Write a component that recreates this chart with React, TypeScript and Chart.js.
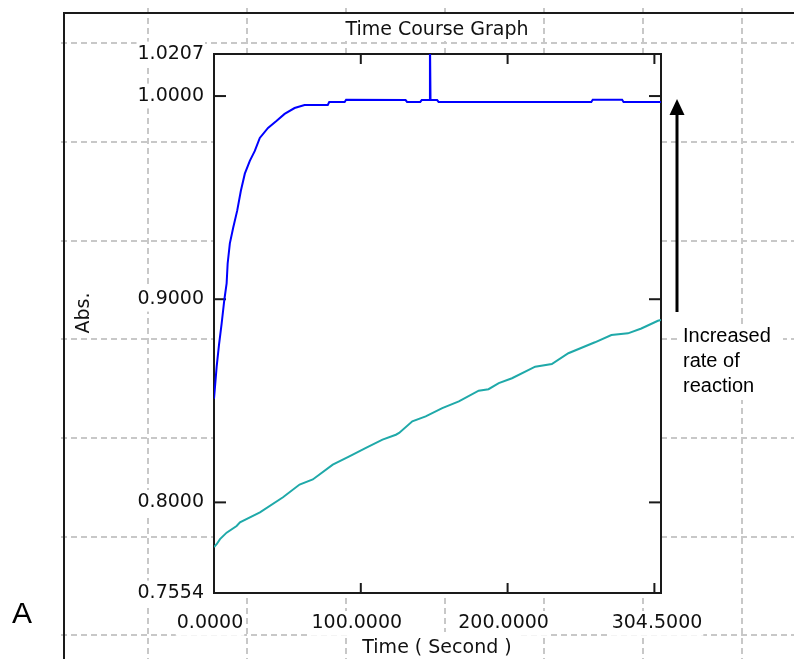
import React, { useEffect, useRef } from "react";
import { Chart, registerables } from "chart.js";

Chart.register(...registerables);

// ---- data (time in seconds, absorbance) ----
const fastTime = [0, 1.8, 3.4, 5.2, 7, 8.6, 9.3, 10.8, 13.1, 15.8, 18.3, 21, 24.4, 27.8, 31.2, 36.8, 42.5, 48.1, 54.9, 61.7, 77.5, 78.5, 89, 90, 130.5, 131.5, 140.5, 141.5, 146.7, 147.1, 147.5, 152, 153, 257, 258, 278, 279, 304.5];
const fastAbs = [0.851, 0.8667, 0.8775, 0.888, 0.8995, 0.9078, 0.9176, 0.9275, 0.9353, 0.9436, 0.9534, 0.9618, 0.9681, 0.973, 0.9794, 0.9843, 0.9877, 0.9912, 0.9941, 0.9956, 0.9956, 0.9971, 0.9971, 0.9982, 0.998, 0.9971, 0.9971, 0.998, 0.998, 1.03, 0.998, 0.998, 0.9971, 0.9971, 0.9982, 0.9982, 0.9971, 0.9971];

const slowTime = [0, 1.8, 4.1, 8.6, 15.4, 17.7, 31.3, 47, 58.3, 67.3, 80.9, 92.2, 103.5, 114.8, 123.9, 126.1, 135.1, 144.2, 155.5, 166.8, 180.3, 187, 194, 203, 218.8, 230.1, 241.4, 259.5, 270.7, 282, 291.1, 302.4, 304.5];
const slowAbs = [0.778, 0.7794, 0.7819, 0.7851, 0.7884, 0.7902, 0.7951, 0.8025, 0.8088, 0.8113, 0.8186, 0.8227, 0.8268, 0.8309, 0.8333, 0.8342, 0.8399, 0.8423, 0.8464, 0.8497, 0.855, 0.8557, 0.8587, 0.8611, 0.8668, 0.8681, 0.8734, 0.8788, 0.8824, 0.8832, 0.8856, 0.8894, 0.8898];

const xMin = 0;
const xMax = 304.5;
const yMin = 0.7554;
const yMax = 1.0207;
const xTickValues = [0, 100, 200, 304.5];
const xTickMarks = [100, 200, 300];
const yTickValues = [0.7554, 0.8, 0.9, 1.0, 1.0207];
const yTickMarks = [0.8, 0.9, 1.0];

const chartTitle = "Time Course Graph";
const xTitle = "Time ( Second )";
const yTitle = "Abs.";
const annotationLines = ["Increased", "rate of", "reaction"];
const panelLabel = "A";

// ---- layout constants ----
const W = 794;
const H = 659;
const BG_GRID_X = [148, 247, 346, 445, 544, 643, 742];
const BG_GRID_Y = [43, 142, 241, 339, 438, 537, 635];
const TICK_FONT = { family: "'DejaVu Sans', sans-serif", size: 19 };

function line(ctx: CanvasRenderingContext2D, x1: number, y1: number, x2: number, y2: number) {
  ctx.beginPath();
  ctx.moveTo(x1, y1);
  ctx.lineTo(x2, y2);
  ctx.stroke();
}

const decorPlugin = {
  id: "decor",
  beforeDraw(chart: any) {
    const ctx: CanvasRenderingContext2D = chart.ctx;
    const ca = chart.chartArea;
    ctx.save();
    ctx.fillStyle = "#ffffff";
    ctx.fillRect(0, 0, W, H);

    // background dashed grid
    ctx.strokeStyle = "#c8c8c8";
    ctx.lineWidth = 2;
    ctx.setLineDash([6, 4]);
    for (const gx of BG_GRID_X) line(ctx, gx, 8, gx, H);
    for (const gy of BG_GRID_Y) line(ctx, 61, gy, W, gy);
    ctx.setLineDash([]);

    // outer frame
    ctx.strokeStyle = "#1a1a1a";
    ctx.lineWidth = 2;
    line(ctx, 64, 13, 64, H);
    line(ctx, 63, 13, W, 13);

    // plot area background
    ctx.fillStyle = "#ffffff";
    ctx.fillRect(ca.left, ca.top, ca.right - ca.left, ca.bottom - ca.top);

    // title
    ctx.fillRect(338, 15, 198, 26);
    ctx.fillStyle = "#111111";
    ctx.font = "19px 'DejaVu Sans', sans-serif";
    ctx.textAlign = "center";
    ctx.textBaseline = "alphabetic";
    ctx.fillText(chartTitle, 437, 35);

    // x title
    ctx.fillStyle = "#ffffff";
    ctx.fillRect(350, 632, 170, 27);
    ctx.fillStyle = "#111111";
    ctx.fillText(xTitle, 437, 653);

    // y title
    ctx.save();
    ctx.translate(89, 313);
    ctx.rotate(-Math.PI / 2);
    ctx.textAlign = "center";
    ctx.fillText(yTitle, 0, 0);
    ctx.restore();

    // panel label
    ctx.fillStyle = "#000000";
    ctx.font = "30px 'Liberation Sans', Arial, sans-serif";
    ctx.textAlign = "left";
    ctx.fillText(panelLabel, 12, 623);
    ctx.restore();
  },
  beforeDatasetsDraw(chart: any) {
    const ctx: CanvasRenderingContext2D = chart.ctx;
    const ca = chart.chartArea;
    const xs = chart.scales.x;
    const ys = chart.scales.y;
    ctx.save();
    ctx.strokeStyle = "#1a1a1a";
    ctx.lineWidth = 2;
    ctx.strokeRect(ca.left, ca.top, ca.right - ca.left, ca.bottom - ca.top);
    for (const v of xTickMarks) {
      const px = xs.getPixelForValue(v);
      line(ctx, px, ca.bottom, px, ca.bottom - 10);
      line(ctx, px, ca.top, px, ca.top + 10);
    }
    for (const v of yTickMarks) {
      const py = ys.getPixelForValue(v);
      line(ctx, ca.left, py, ca.left + 12, py);
      line(ctx, ca.right, py, ca.right - 12, py);
    }
    ctx.restore();
  },
  afterDraw(chart: any) {
    const ctx: CanvasRenderingContext2D = chart.ctx;
    ctx.save();
    // arrow
    ctx.strokeStyle = "#000000";
    ctx.fillStyle = "#000000";
    ctx.lineWidth = 3;
    line(ctx, 677, 312, 677, 112);
    ctx.beginPath();
    ctx.moveTo(677, 99);
    ctx.lineTo(669.5, 115);
    ctx.lineTo(684.5, 115);
    ctx.closePath();
    ctx.fill();

    // annotation text
    ctx.fillStyle = "#ffffff";
    ctx.fillRect(679, 324, 104, 76);
    ctx.fillStyle = "#000000";
    ctx.font = "20px 'Liberation Sans', Arial, sans-serif";
    ctx.textAlign = "left";
    ctx.textBaseline = "alphabetic";
    annotationLines.forEach((t, i) => ctx.fillText(t, 683, 342 + i * 25));
    ctx.restore();
  },
};

export default function App() {
  const canvasRef = useRef<HTMLCanvasElement | null>(null);

  useEffect(() => {
    if (!canvasRef.current) return;
    const fastPoints = fastTime.map((t, i) => ({ x: t, y: fastAbs[i] }));
    const slowPoints = slowTime.map((t, i) => ({ x: t, y: slowAbs[i] }));

    const chart = new Chart(canvasRef.current, {
      type: "line",
      data: {
        datasets: [
          {
            label: "Fast",
            data: fastPoints,
            borderColor: "#0000ff",
            borderWidth: 2,
            pointRadius: 0,
            tension: 0,
            fill: false,
          },
          {
            label: "Slow",
            data: slowPoints,
            borderColor: "#1fa9a9",
            borderWidth: 2,
            pointRadius: 0,
            tension: 0,
            fill: false,
          },
        ],
      },
      options: {
        animation: false,
        responsive: false,
        devicePixelRatio: 1,
        parsing: false as any,
        layout: { padding: { left: 0, right: 133, top: 54, bottom: 0 } },
        plugins: {
          legend: { display: false },
          tooltip: { enabled: false },
          title: { display: false },
        },
        scales: {
          x: {
            type: "linear",
            min: xMin,
            max: xMax,
            grid: { display: false, drawTicks: false },
            border: { display: false },
            afterBuildTicks: (s: any) => {
              s.ticks = xTickValues.map((v) => ({ value: v }));
            },
            afterFit: (s: any) => {
              s.height = 66;
            },
            ticks: {
              autoSkip: false,
              maxRotation: 0,
              minRotation: 0,
              padding: 19,
              labelOffset: -4,
              color: "#111111",
              font: TICK_FONT,
              showLabelBackdrop: true,
              backdropColor: "#ffffff",
              backdropPadding: 1,
              callback: (v: any) => Number(v).toFixed(4),
            },
          },
          y: {
            type: "linear",
            min: yMin,
            max: yMax,
            grid: { display: false, drawTicks: false },
            border: { display: false },
            afterBuildTicks: (s: any) => {
              s.ticks = yTickValues.map((v) => ({ value: v }));
            },
            afterFit: (s: any) => {
              s.width = 214;
            },
            ticks: {
              autoSkip: false,
              padding: 10,
              color: "#111111",
              font: TICK_FONT,
              showLabelBackdrop: true,
              backdropColor: "#ffffff",
              backdropPadding: 1,
              callback: (v: any) => Number(v).toFixed(4),
            },
          },
        },
      },
      plugins: [decorPlugin],
    } as any);

    return () => chart.destroy();
  }, []);

  return (
    <div style={{ position: "absolute", left: 0, top: 0, width: W, height: H }}>
      <canvas ref={canvasRef} width={W} height={H} style={{ display: "block" }} />
    </div>
  );
}
